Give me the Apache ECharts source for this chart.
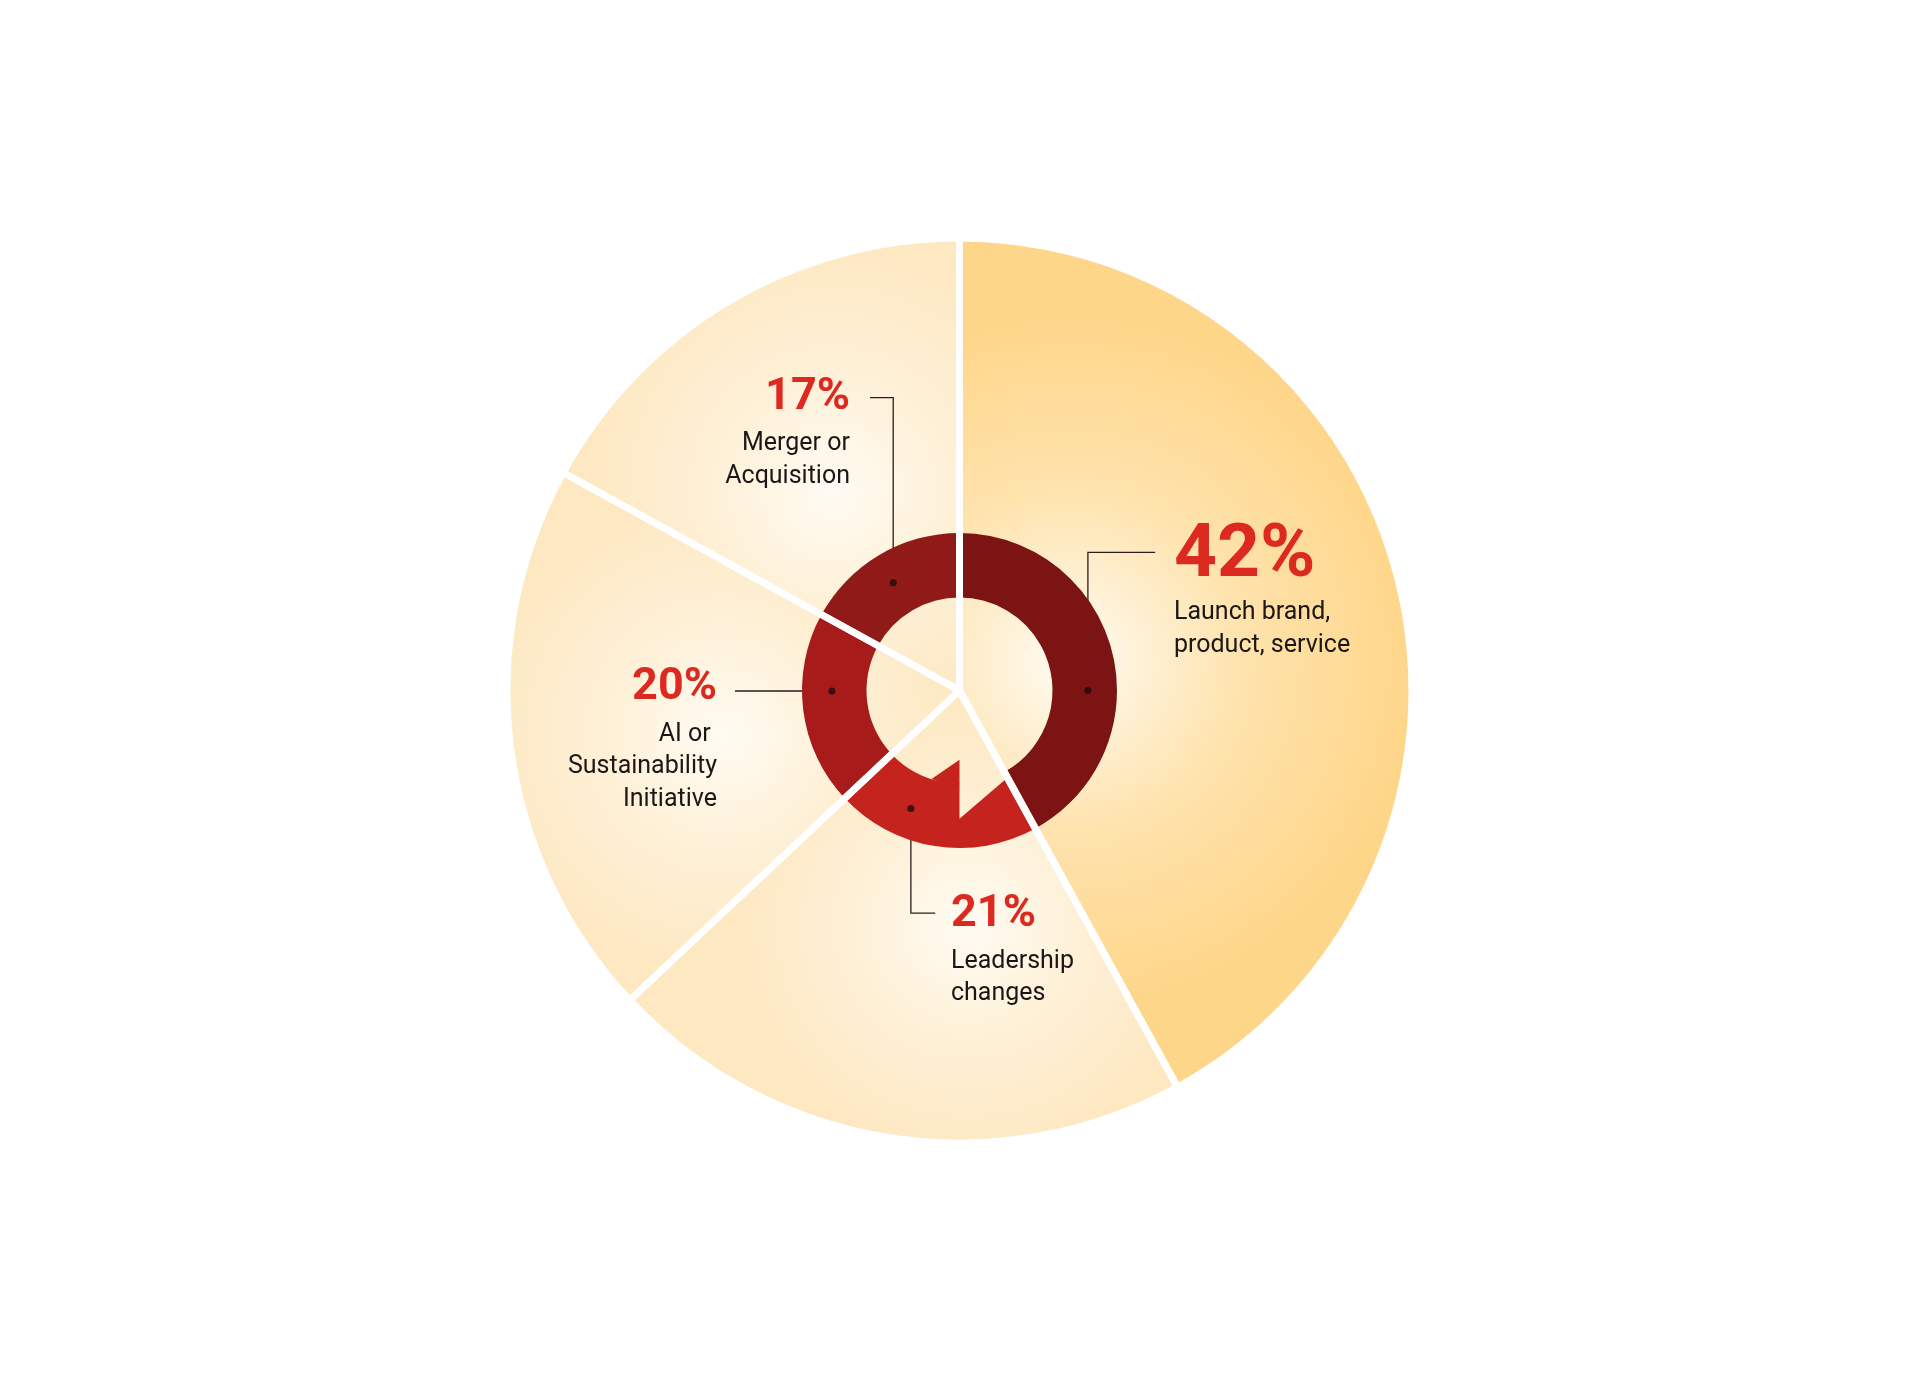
<!DOCTYPE html>
<html>
<head>
<meta charset="utf-8">
<title>Pie</title>
<script src="https://cdn.jsdelivr.net/npm/echarts@6/dist/echarts.min.js"></script>
<style>
  html, body { margin: 0; padding: 0; background: #fff; }
  #chart { width: 1920px; height: 1383px; }
</style>
</head>
<body>
<div id="chart"></div>
<script>
// data
const categories = ['Launch brand,\nproduct, service', 'Leadership\nchanges', 'AI or \nSustainability\nInitiative', 'Merger or\nAcquisition'];
const shares = [42, 21, 20, 17];
const ringColors = ['#7b1413', '#c5231d', '#a71c1a', '#8f1a17'];

// layout (px, relative to pie centre)
const cx = 959.5, cy = 690.5, R = 449;
const ringInner = 93, ringOuter = 157.5;
const labelX = [214.5, -8.5, -242.5, -109.5];
const labelY = [-172, 194.5, -32.5, -323];
const labelAlign = ['left', 'left', 'right', 'right'];
const dotR = [128.4, 127.6, 127.6, 126.5];
const dotAngle = [90, 202.4, 269.8, 328.4];
const elbowY = [-138.2, 222.7, 0.5, -292.8];
const endX = [195.7, -24.3, -224.5, -89.5];
// light spot of each slice gradient: [dx, dy, radius]
const glow = [[110, -30, 430], [8, 235, 290], [-237, 45, 300], [-127, -200, 310]];

function sliceFill(i) {
  const edge = i === 0 ? '#fed68a' : '#fde8c2';
  const mid = i === 0 ? '#fee3ad' : '#fef0d6';
  return {
    type: 'radial', global: true,
    x: cx + glow[i][0], y: cy + glow[i][1], r: glow[i][2],
    colorStops: [
      { offset: 0, color: '#fffbf3' },
      { offset: 0.4, color: mid },
      { offset: 0.8, color: edge },
      { offset: 1, color: edge }
    ]
  };
}

function dotXY(i) {
  const a = dotAngle[i] * Math.PI / 180;
  return [cx + dotR[i] * Math.sin(a), cy - dotR[i] * Math.cos(a)];
}

const chart = echarts.init(document.getElementById('chart'));

chart.setOption({
  backgroundColor: '#ffffff',
  animation: false,
  polar: { center: [cx, cy], radius: R },
  angleAxis: { type: 'value', min: 0, max: 360, startAngle: 90, clockwise: true, show: false },
  radiusAxis: { type: 'value', min: 0, max: R, show: false },
  graphic: [
    {
      // notch of the circular arrow
      type: 'polygon', z: 3, silent: true,
      shape: { points: [[cx, cy + 85], [cx, cy + 128.3], [cx + 47, cy + 88], [cx + 44, cy + 80], [cx + 22, cy + 88]] },
      style: { fill: sliceFill(1) }
    },
    {
      type: 'polygon', z: 3, silent: true,
      shape: { points: [[cx - 28, cy + 88.5], [cx, cy + 69.3], [cx, cy + 94], [cx - 14, cy + 93.5]] },
      style: { fill: ringColors[1] }
    }
  ],
  series: [
    {
      type: 'pie',
      z: 1,
      silent: true,
      center: [cx, cy],
      radius: [0, R],
      startAngle: 90,
      label: { show: false },
      labelLine: { show: false },
      data: shares.map((v, i) => ({ value: v, name: categories[i], itemStyle: { color: sliceFill(i) } }))
    },
    {
      type: 'pie',
      z: 2,
      silent: true,
      center: [cx, cy],
      radius: [ringInner, ringOuter],
      startAngle: 90,
      avoidLabelOverlap: false,
      label: {
        show: true,
        position: 'outside',
        formatter: p => '{' + (p.dataIndex === 0 ? 'big' : 'pct') + '|' + p.value + '%}\n' +
          categories[p.dataIndex].split('\n').map(s => '{t|' + s + '}').join('\n'),
        rich: {
          big: { fontFamily: 'Roboto', fontWeight: 'bold', fontSize: 75, lineHeight: 78, color: '#dd2a21' },
          pct: { fontFamily: 'Roboto', fontWeight: 'bold', fontSize: 45, lineHeight: 60, color: '#dd2a21' },
          t: { fontFamily: 'Roboto', fontSize: 25, lineHeight: 32.5, color: '#1c1616' }
        }
      },
      labelLine: { show: true, lineStyle: { color: '#2b1d1d', width: 1.3 } },
      labelLayout: params => {
        const i = params.dataIndex;
        const d = dotXY(i);
        return {
          x: cx + labelX[i],
          y: cy + labelY[i],
          align: labelAlign[i],
          verticalAlign: 'top',
          labelLinePoints: [d, [d[0], cy + elbowY[i]], [cx + endX[i], cy + elbowY[i]]]
        };
      },
      data: shares.map((v, i) => ({ value: v, name: categories[i], itemStyle: { color: ringColors[i] } }))
    },
    {
      // white separators
      type: 'pie',
      z: 4,
      silent: true,
      center: [cx, cy],
      radius: [0, R + 4],
      startAngle: 90,
      label: { show: false },
      labelLine: { show: false },
      itemStyle: { color: 'rgba(0,0,0,0)', borderColor: '#ffffff', borderWidth: 7, borderJoin: 'round' },
      data: shares.map((v, i) => ({ value: v, name: categories[i] }))
    },
    {
      type: 'scatter',
      coordinateSystem: 'polar',
      z: 5,
      silent: true,
      symbol: 'circle',
      symbolSize: 7,
      itemStyle: { color: '#1e0b0b' },
      data: dotR.map((r, i) => [r, dotAngle[i]])
    }
  ]
});
</script>
</body>
</html>
